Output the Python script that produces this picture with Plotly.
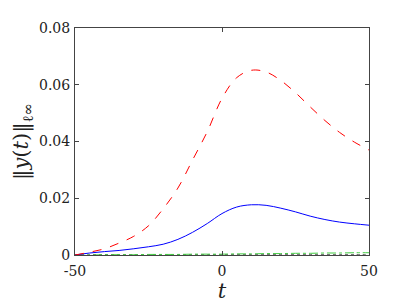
import plotly.graph_objects as go

t = [-50, -45, -40, -35, -30, -25, -20, -15, -10, -5, 0,
     5, 10, 15, 20, 25, 30, 35, 40, 45, 50]

red_vals = [0.0000, 0.0010, 0.0022, 0.0042, 0.0066, 0.0103, 0.0163, 0.0236, 0.0335, 0.0435, 0.0552,
            0.0625, 0.0651, 0.0645, 0.0615, 0.0572, 0.0522, 0.0474, 0.0432, 0.0398, 0.0370]
blue_vals = [0.0000, 0.0007, 0.0012, 0.0016, 0.0022, 0.0029, 0.0038, 0.0055, 0.0080, 0.0111, 0.0146,
             0.0169, 0.0177, 0.0175, 0.0165, 0.0152, 0.0137, 0.0125, 0.0116, 0.0110, 0.0105]
green_vals = [0.0000, 0.0000, 0.0001, 0.0001, 0.0001, 0.0002, 0.0002, 0.0002, 0.0003, 0.0003, 0.0003,
              0.0004, 0.0004, 0.0005, 0.0005, 0.0006, 0.0006, 0.0007, 0.0007, 0.0008, 0.0008]
gray_vals = [0.0000, 0.0001, 0.0001, 0.0001, 0.0001, 0.0001, 0.0001, 0.0001, 0.0001, 0.0001, 0.0001,
             0.0001, 0.0001, 0.0001, 0.0001, 0.0001, 0.0001, 0.0001, 0.0001, 0.0001, 0.0001]

x_ticks = [-50, 0, 50]
x_ticktext = ["-50", "0", "50"]
y_ticks = [0, 0.02, 0.04, 0.06, 0.08]
y_ticktext = ["0", "0.02", "0.04", "0.06", "0.08"]

font = "DejaVu Serif"

fig = go.Figure()
fig.add_trace(go.Scatter(x=t, y=gray_vals, mode="lines", line_shape="spline",
                         line=dict(color="#555555", width=1, dash="dot")))
fig.add_trace(go.Scatter(x=t, y=green_vals, mode="lines", line_shape="spline",
                         line=dict(color="#44cc44", width=1, dash="dashdot")))
fig.add_trace(go.Scatter(x=t, y=blue_vals, mode="lines", line_shape="spline",
                         line=dict(color="#0000ff", width=1)))
fig.add_trace(go.Scatter(x=t, y=red_vals, mode="lines", line_shape="spline",
                         line=dict(color="#ff0000", width=1, dash="dash")))

axis_style = dict(showgrid=False, zeroline=False, showline=True, linecolor="#444444",
                  linewidth=1, mirror="ticks", ticks="inside", ticklen=4,
                  tickcolor="#444444", tickfont=dict(family=font, size=14, color="#222222"))

# page body adds an 8px margin, so the plot margins are shifted to compensate
fig.update_layout(
    width=407, height=305,
    margin=dict(l=52, r=46, t=14, b=58),
    paper_bgcolor="white", plot_bgcolor="white",
    showlegend=False,
    font=dict(family=font, color="#222222"),
    xaxis=dict(range=[-50, 50], tickvals=x_ticks, ticktext=x_ticktext, ticklabelstandoff=3,
               title=dict(text="<i>t</i>", font=dict(family=font, size=21), standoff=2),
               **axis_style),
    yaxis=dict(range=[0, 0.08], tickvals=y_ticks, ticktext=y_ticktext, ticklabelstandoff=1,
               title=dict(text="‖<i>y</i>(<i>t</i>)‖<sub>ℓ∞</sub>",
                          font=dict(family=font, size=21), standoff=4),
               **axis_style),
)

fig.write_html("out.html")
